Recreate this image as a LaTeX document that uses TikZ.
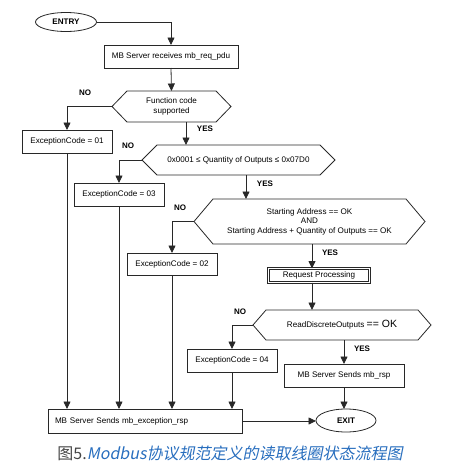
\documentclass[tikz,border=0pt]{standalone}
\usepackage{fontspec}
\setmainfont{Liberation Sans}
\newfontfamily\cjkcap[FakeSlant=0.2]{Noto Sans CJK SC}
\newfontfamily\cjkup{Noto Sans CJK SC}
\usetikzlibrary{arrows.meta,shapes.geometric}
\definecolor{ln}{RGB}{40,40,40}
\definecolor{capblue}{RGB}{40,110,190}
\definecolor{capgray}{RGB}{70,70,70}
\tikzset{
  line/.style={draw=ln, line width=0.8pt},
  arr/.style={line, -{Triangle[length=7.5pt,width=7pt]}},
  box/.style={line, rectangle, inner sep=0pt, outer sep=0pt, font=\fontsize{8.1}{9.5}\selectfont, align=center},
  oval/.style={line, ellipse, inner sep=0pt, outer sep=0pt, font=\fontsize{8.1}{9.5}\selectfont\bfseries},
  hexa/.style={rectangle, draw=none, inner sep=0pt, outer sep=0pt, font=\fontsize{8.1}{9.5}\selectfont, align=center},
  lab/.style={font=\fontsize{8}{9.5}\selectfont\bfseries, inner sep=0pt}
}
\newcommand\hexdraw[2]{%
  \draw[line] ([xshift=#2pt]#1.north west) -- ([xshift=-#2pt]#1.north east) -- (#1.east)
    -- ([xshift=-#2pt]#1.south east) -- ([xshift=#2pt]#1.south west) -- (#1.west) -- cycle;}
\begin{document}
\begin{tikzpicture}[x=1pt,y=-1pt]
\useasboundingbox (0,0) rectangle (465,471);
\node[oval, minimum width=61pt, minimum height=19pt] (entry) at (66,22) {ENTRY};
\node[box, minimum width=134pt, minimum height=23pt] (recv) at (171,56.5) {MB Server receives mb\_req\_pdu};
\node[hexa, minimum width=119pt, minimum height=31pt] (hex1) at (171.5,106.5) {Function code\\supported};
\hexdraw{hex1}{15}
\node[box, minimum width=90pt, minimum height=23pt] (ex01) at (67,141.5) {ExceptionCode = 01};
\node[hexa, minimum width=193pt, minimum height=30pt] (hex2) at (238.5,160) {0x0001 ≤ Quantity of Outputs ≤ 0x07D0};
\hexdraw{hex2}{15}
\node[box, minimum width=90pt, minimum height=23pt] (ex03) at (119,194.5) {ExceptionCode = 03};
\node[hexa, minimum width=231pt, minimum height=45pt] (hex3) at (309.5,221.5) {Starting Address == OK\\AND\\Starting Address + Quantity of Outputs == OK};
\hexdraw{hex3}{19}
\node[box, minimum width=90pt, minimum height=22pt] (ex02) at (172,264) {ExceptionCode = 02};
\node[box, double, double distance=1.4pt, minimum width=101pt, minimum height=14pt] (req) at (319,275.5) {Request Processing};
\node[hexa, minimum width=178pt, minimum height=30pt] (hex4) at (342,325) {ReadDiscreteOutputs {\fontsize{10.5}{11}\selectfont == OK}};
\hexdraw{hex4}{13}
\node[box, minimum width=90pt, minimum height=23pt] (ex04) at (232,360.5) {ExceptionCode = 04};
\node[box, minimum width=120pt, minimum height=23pt] (rsp) at (344,375.5) {MB Server Sends mb\_rsp};
\node[oval, minimum width=60pt, minimum height=23pt] (exit) at (346,420.5) {EXIT};
\node[box, minimum height=24pt, inner xsep=7pt, text width=180pt, align=left] (exc) at (145,421) {MB Server Sends mb\_exception\_rsp};

\node[lab] (no1) at (85,93) {NO};
\node[lab] (yes1) at (205,129) {YES};
\node[lab] (no2) at (128,146) {NO};
\node[lab] (yes2) at (265,184) {YES};
\node[lab] (no3) at (180,208) {NO};
\node[lab] (yes3) at (330,253) {YES};
\node[lab] (no4) at (240,312) {NO};
\node[lab] (yes4) at (362,349) {YES};

\draw[arr] (entry.east) -| (recv.north);
\draw[arr] (recv.south) -- (hex1.north);
\draw[arr] (hex1.west) -| (ex01.north);
\draw[arr] ([xshift=14.5pt]hex1.south) -- ([xshift=14.5pt]hex1.south |- hex2.north);
\draw[arr] (hex2.west) -| (ex03.north);
\draw[arr] ([xshift=7.5pt]hex2.south) -- ([xshift=7.5pt]hex2.south |- hex3.north);
\draw[arr] (hex3.west) -| (ex02.north);
\draw[arr] ([xshift=2.5pt]hex3.south) -- ([xshift=2.5pt]hex3.south |- req.north);
\draw[arr] ([xshift=-7pt]req.south) -- ([xshift=-7pt]req.south |- hex4.north);
\draw[arr] (hex4.west) -| (ex04.north);
\draw[arr] (hex4.south -| rsp.north) -- (rsp.north);
\draw[arr] (rsp.south) -- (rsp.south |- exit.north);
\draw[arr] (ex01.south) -- (ex01.south |- exc.north);
\draw[arr] (ex03.south) -- (ex03.south |- exc.north);
\draw[arr] (ex02.south) -- (ex02.south |- exc.north);
\draw[arr] (ex04.south) -- (ex04.south |- exc.north);
\draw[arr] (exc.east) -- (exc.east -| exit.west);

\node[inner sep=0pt, font=\fontsize{16}{18}\selectfont] (cap) at (230,453)
  {{\cjkup\color{capgray}图5.}{\cjkcap\color{capblue}Modbus协议规范定义的读取线圈状态流程图}};
\end{tikzpicture}
\end{document}
